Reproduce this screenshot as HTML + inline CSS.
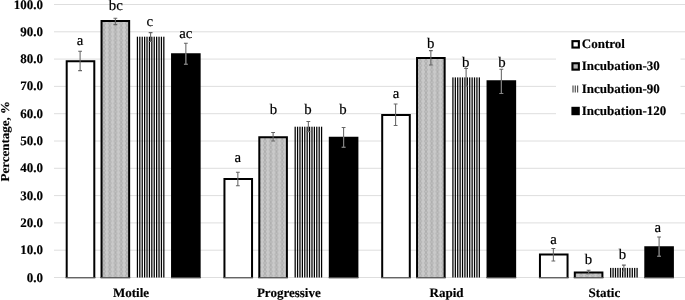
<!DOCTYPE html>
<html><head><meta charset="utf-8"><title>chart</title>
<style>
html,body{margin:0;padding:0;background:#fff;}
body{width:685px;height:300px;overflow:hidden;}
svg{display:block;will-change:transform;}
text{font-family:"Liberation Serif",serif;fill:#000;text-rendering:geometricPrecision;}
.b{font-weight:bold;font-size:13px;stroke:#000;stroke-width:0.15px;}
.l{font-size:14.8px;stroke:#000;stroke-width:0.2px;}
</style></head><body>
<svg width="685" height="300" viewBox="0 0 685 300">
<defs>
<pattern id="dm" patternUnits="userSpaceOnUse" x="101.1" y="0.5" width="5.75" height="4.2">
<rect width="5.75" height="4.2" fill="#c9c9c9"/>
<path d="M2.9 0 L4.4 2.1 L2.9 4.2 L1.4 2.1 Z" stroke="#a9a9a9" stroke-width="0.8" fill="#c1c1c1"/>
</pattern>
</defs>
<rect width="685" height="300" fill="#fff"/>

<line x1="54.0" x2="685" y1="277.50" y2="277.50" stroke="#dadada" stroke-width="0.9"/>
<line x1="54.0" x2="685" y1="250.20" y2="250.20" stroke="#dadada" stroke-width="0.9"/>
<line x1="54.0" x2="685" y1="222.90" y2="222.90" stroke="#dadada" stroke-width="0.9"/>
<line x1="54.0" x2="685" y1="195.60" y2="195.60" stroke="#dadada" stroke-width="0.9"/>
<line x1="54.0" x2="685" y1="168.30" y2="168.30" stroke="#dadada" stroke-width="0.9"/>
<line x1="54.0" x2="685" y1="141.00" y2="141.00" stroke="#dadada" stroke-width="0.9"/>
<line x1="54.0" x2="685" y1="113.70" y2="113.70" stroke="#dadada" stroke-width="0.9"/>
<line x1="54.0" x2="685" y1="86.40" y2="86.40" stroke="#dadada" stroke-width="0.9"/>
<line x1="54.0" x2="685" y1="59.10" y2="59.10" stroke="#dadada" stroke-width="0.9"/>
<line x1="54.0" x2="685" y1="31.80" y2="31.80" stroke="#dadada" stroke-width="0.9"/>
<line x1="54.0" x2="685" y1="4.50" y2="4.50" stroke="#dadada" stroke-width="0.9"/>
<text class="b" transform="translate(42.9,281.50) scale(1,1.0)" text-anchor="end">0.0</text>
<text class="b" transform="translate(42.9,254.20) scale(1,1.0)" text-anchor="end">10.0</text>
<text class="b" transform="translate(42.9,226.90) scale(1,1.0)" text-anchor="end">20.0</text>
<text class="b" transform="translate(42.9,199.60) scale(1,1.0)" text-anchor="end">30.0</text>
<text class="b" transform="translate(42.9,172.30) scale(1,1.0)" text-anchor="end">40.0</text>
<text class="b" transform="translate(42.9,145.00) scale(1,1.0)" text-anchor="end">50.0</text>
<text class="b" transform="translate(42.9,117.70) scale(1,1.0)" text-anchor="end">60.0</text>
<text class="b" transform="translate(42.9,90.40) scale(1,1.0)" text-anchor="end">70.0</text>
<text class="b" transform="translate(42.9,63.10) scale(1,1.0)" text-anchor="end">80.0</text>
<text class="b" transform="translate(42.9,35.80) scale(1,1.0)" text-anchor="end">90.0</text>
<text class="b" transform="translate(42.9,8.50) scale(1,1.0)" text-anchor="end">100.0</text>
<text class="b" transform="translate(8.5,141.2) rotate(-90) scale(1,0.93)" text-anchor="middle">Percentage, %</text>
<rect x="66.70" y="61.30" width="27.6" height="216.70" fill="#fff"/>
<path d="M66.70 278.00 V61.30 H94.30 V278.00" fill="none" stroke="#000" stroke-width="2"/>
<rect x="65.70" y="277.10" width="29.6" height="1.3" fill="#555"/>
<rect x="101.55" y="21.10" width="27.6" height="256.90" fill="url(#dm)"/>
<path d="M101.55 278.00 V21.10 H129.15 V278.00" fill="none" stroke="#000" stroke-width="2"/>
<rect x="100.55" y="277.10" width="29.6" height="1.3" fill="#555"/>
<g>
<rect x="136.80" y="36.70" width="1.25" height="240.80" fill="#000"/>
<rect x="139.20" y="36.70" width="1.25" height="240.80" fill="#000"/>
<rect x="141.60" y="36.70" width="1.25" height="240.80" fill="#000"/>
<rect x="144.00" y="36.70" width="1.25" height="240.80" fill="#000"/>
<rect x="146.40" y="36.70" width="1.25" height="240.80" fill="#000"/>
<rect x="148.80" y="36.70" width="1.25" height="240.80" fill="#000"/>
<rect x="151.20" y="36.70" width="1.25" height="240.80" fill="#000"/>
<rect x="153.60" y="36.70" width="1.25" height="240.80" fill="#000"/>
<rect x="156.00" y="36.70" width="1.25" height="240.80" fill="#000"/>
<rect x="158.40" y="36.70" width="1.25" height="240.80" fill="#000"/>
<rect x="160.80" y="36.70" width="1.25" height="240.80" fill="#000"/>
<rect x="163.20" y="36.70" width="1.25" height="240.80" fill="#000"/>
</g>
<rect x="172.05" y="54.20" width="27.6" height="223.80" fill="#000"/>
<path d="M172.05 278.00 V54.20 H199.65 V278.00" fill="none" stroke="#000" stroke-width="2"/>
<rect x="171.05" y="277.10" width="29.6" height="1.3" fill="#555"/>
<rect x="224.45" y="179.00" width="27.6" height="99.00" fill="#fff"/>
<path d="M224.45 278.00 V179.00 H252.05 V278.00" fill="none" stroke="#000" stroke-width="2"/>
<rect x="223.45" y="277.10" width="29.6" height="1.3" fill="#555"/>
<rect x="259.30" y="137.30" width="27.6" height="140.70" fill="url(#dm)"/>
<path d="M259.30 278.00 V137.30 H286.90 V278.00" fill="none" stroke="#000" stroke-width="2"/>
<rect x="258.30" y="277.10" width="29.6" height="1.3" fill="#555"/>
<g>
<rect x="294.55" y="126.70" width="1.25" height="150.80" fill="#000"/>
<rect x="296.95" y="126.70" width="1.25" height="150.80" fill="#000"/>
<rect x="299.35" y="126.70" width="1.25" height="150.80" fill="#000"/>
<rect x="301.75" y="126.70" width="1.25" height="150.80" fill="#000"/>
<rect x="304.15" y="126.70" width="1.25" height="150.80" fill="#000"/>
<rect x="306.55" y="126.70" width="1.25" height="150.80" fill="#000"/>
<rect x="308.95" y="126.70" width="1.25" height="150.80" fill="#000"/>
<rect x="311.35" y="126.70" width="1.25" height="150.80" fill="#000"/>
<rect x="313.75" y="126.70" width="1.25" height="150.80" fill="#000"/>
<rect x="316.15" y="126.70" width="1.25" height="150.80" fill="#000"/>
<rect x="318.55" y="126.70" width="1.25" height="150.80" fill="#000"/>
<rect x="320.95" y="126.70" width="1.25" height="150.80" fill="#000"/>
</g>
<rect x="329.80" y="137.70" width="27.6" height="140.30" fill="#000"/>
<path d="M329.80 278.00 V137.70 H357.40 V278.00" fill="none" stroke="#000" stroke-width="2"/>
<rect x="328.80" y="277.10" width="29.6" height="1.3" fill="#555"/>
<rect x="382.20" y="115.10" width="27.6" height="162.90" fill="#fff"/>
<path d="M382.20 278.00 V115.10 H409.80 V278.00" fill="none" stroke="#000" stroke-width="2"/>
<rect x="381.20" y="277.10" width="29.6" height="1.3" fill="#555"/>
<rect x="417.05" y="57.90" width="27.6" height="220.10" fill="url(#dm)"/>
<path d="M417.05 278.00 V57.90 H444.65 V278.00" fill="none" stroke="#000" stroke-width="2"/>
<rect x="416.05" y="277.10" width="29.6" height="1.3" fill="#555"/>
<g>
<rect x="452.30" y="77.40" width="1.25" height="200.10" fill="#000"/>
<rect x="454.70" y="77.40" width="1.25" height="200.10" fill="#000"/>
<rect x="457.10" y="77.40" width="1.25" height="200.10" fill="#000"/>
<rect x="459.50" y="77.40" width="1.25" height="200.10" fill="#000"/>
<rect x="461.90" y="77.40" width="1.25" height="200.10" fill="#000"/>
<rect x="464.30" y="77.40" width="1.25" height="200.10" fill="#000"/>
<rect x="466.70" y="77.40" width="1.25" height="200.10" fill="#000"/>
<rect x="469.10" y="77.40" width="1.25" height="200.10" fill="#000"/>
<rect x="471.50" y="77.40" width="1.25" height="200.10" fill="#000"/>
<rect x="473.90" y="77.40" width="1.25" height="200.10" fill="#000"/>
<rect x="476.30" y="77.40" width="1.25" height="200.10" fill="#000"/>
<rect x="478.70" y="77.40" width="1.25" height="200.10" fill="#000"/>
</g>
<rect x="487.55" y="81.20" width="27.6" height="196.80" fill="#000"/>
<path d="M487.55 278.00 V81.20 H515.15 V278.00" fill="none" stroke="#000" stroke-width="2"/>
<rect x="486.55" y="277.10" width="29.6" height="1.3" fill="#555"/>
<rect x="539.95" y="254.40" width="27.6" height="23.60" fill="#fff"/>
<path d="M539.95 278.00 V254.40 H567.55 V278.00" fill="none" stroke="#000" stroke-width="2"/>
<rect x="538.95" y="277.10" width="29.6" height="1.3" fill="#555"/>
<rect x="574.80" y="272.40" width="27.6" height="5.60" fill="url(#dm)"/>
<path d="M574.80 278.00 V272.40 H602.40 V278.00" fill="none" stroke="#000" stroke-width="2"/>
<rect x="573.80" y="277.10" width="29.6" height="1.3" fill="#555"/>
<g>
<rect x="610.05" y="267.90" width="1.25" height="9.60" fill="#000"/>
<rect x="612.45" y="267.90" width="1.25" height="9.60" fill="#000"/>
<rect x="614.85" y="267.90" width="1.25" height="9.60" fill="#000"/>
<rect x="617.25" y="267.90" width="1.25" height="9.60" fill="#000"/>
<rect x="619.65" y="267.90" width="1.25" height="9.60" fill="#000"/>
<rect x="622.05" y="267.90" width="1.25" height="9.60" fill="#000"/>
<rect x="624.45" y="267.90" width="1.25" height="9.60" fill="#000"/>
<rect x="626.85" y="267.90" width="1.25" height="9.60" fill="#000"/>
<rect x="629.25" y="267.90" width="1.25" height="9.60" fill="#000"/>
<rect x="631.65" y="267.90" width="1.25" height="9.60" fill="#000"/>
<rect x="634.05" y="267.90" width="1.25" height="9.60" fill="#000"/>
<rect x="636.45" y="267.90" width="1.25" height="9.60" fill="#000"/>
</g>
<rect x="645.30" y="247.20" width="27.6" height="30.80" fill="#000"/>
<path d="M645.30 278.00 V247.20 H672.90 V278.00" fill="none" stroke="#000" stroke-width="2"/>
<rect x="644.30" y="277.10" width="29.6" height="1.3" fill="#555"/>
<path d="M80.10 51.30 V70.60 M78.20 51.30 H82.00 M78.20 70.60 H82.00" stroke="#666" stroke-width="1.05" fill="none"/>
<path d="M115.35 18.20 V24.60 M113.45 18.20 H117.25 M113.45 24.60 H117.25" stroke="#666" stroke-width="1.05" fill="none"/>
<path d="M150.60 32.60 V41.40 M148.70 32.60 H152.50 M148.70 41.40 H152.50" stroke="#666" stroke-width="1.05" fill="none"/>
<path d="M185.85 43.30 V64.30 M183.95 43.30 H187.75 M183.95 64.30 H187.75" stroke="#666" stroke-width="1.05" fill="none"/>
<path d="M185.85 53.50 V64.30 M183.95 64.30 H187.75" stroke="#858585" stroke-width="1.05" fill="none"/>
<path d="M237.85 172.20 V185.80 M235.95 172.20 H239.75 M235.95 185.80 H239.75" stroke="#666" stroke-width="1.05" fill="none"/>
<path d="M273.10 132.50 V141.00 M271.20 132.50 H275.00 M271.20 141.00 H275.00" stroke="#666" stroke-width="1.05" fill="none"/>
<path d="M308.35 121.50 V131.60 M306.45 121.50 H310.25 M306.45 131.60 H310.25" stroke="#666" stroke-width="1.05" fill="none"/>
<path d="M343.60 127.40 V147.20 M341.70 127.40 H345.50 M341.70 147.20 H345.50" stroke="#666" stroke-width="1.05" fill="none"/>
<path d="M343.60 137.00 V147.20 M341.70 147.20 H345.50" stroke="#858585" stroke-width="1.05" fill="none"/>
<path d="M395.60 104.00 V125.50 M393.70 104.00 H397.50 M393.70 125.50 H397.50" stroke="#666" stroke-width="1.05" fill="none"/>
<path d="M430.85 50.60 V65.00 M428.95 50.60 H432.75 M428.95 65.00 H432.75" stroke="#666" stroke-width="1.05" fill="none"/>
<path d="M466.10 68.50 V86.00 M464.20 68.50 H468.00 M464.20 86.00 H468.00" stroke="#666" stroke-width="1.05" fill="none"/>
<path d="M501.35 69.30 V93.50 M499.45 69.30 H503.25 M499.45 93.50 H503.25" stroke="#666" stroke-width="1.05" fill="none"/>
<path d="M501.35 80.50 V93.50 M499.45 93.50 H503.25" stroke="#858585" stroke-width="1.05" fill="none"/>
<path d="M553.35 248.50 V260.90 M551.45 248.50 H555.25 M551.45 260.90 H555.25" stroke="#666" stroke-width="1.05" fill="none"/>
<path d="M588.60 270.20 V273.70 M586.70 270.20 H590.50 M586.70 273.70 H590.50" stroke="#666" stroke-width="1.05" fill="none"/>
<path d="M623.85 265.10 V271.00 M621.95 265.10 H625.75 M621.95 271.00 H625.75" stroke="#666" stroke-width="1.05" fill="none"/>
<path d="M659.10 237.00 V256.20 M657.20 237.00 H661.00 M657.20 256.20 H661.00" stroke="#666" stroke-width="1.05" fill="none"/>
<path d="M659.10 246.50 V256.20 M657.20 256.20 H661.00" stroke="#858585" stroke-width="1.05" fill="none"/>
<text class="l" transform="translate(80.0,44.9) scale(1,1.0)" text-anchor="middle">a</text>
<text class="l" transform="translate(115.8,9.9) scale(1,1.0)" text-anchor="middle">bc</text>
<text class="l" transform="translate(149.8,25.7) scale(1,1.0)" text-anchor="middle">c</text>
<text class="l" transform="translate(185.7,37.6) scale(1,1.0)" text-anchor="middle">ac</text>
<text class="l" transform="translate(237.8,161.7) scale(1,1.0)" text-anchor="middle">a</text>
<text class="l" transform="translate(273.5,114.0) scale(1,1.0)" text-anchor="middle">b</text>
<text class="l" transform="translate(307.9,114.0) scale(1,1.0)" text-anchor="middle">b</text>
<text class="l" transform="translate(342.9,114.0) scale(1,1.0)" text-anchor="middle">b</text>
<text class="l" transform="translate(396.0,97.9) scale(1,1.0)" text-anchor="middle">a</text>
<text class="l" transform="translate(430.7,47.5) scale(1,1.0)" text-anchor="middle">b</text>
<text class="l" transform="translate(465.8,66.9) scale(1,1.0)" text-anchor="middle">b</text>
<text class="l" transform="translate(502.0,66.9) scale(1,1.0)" text-anchor="middle">b</text>
<text class="l" transform="translate(553.5,243.8) scale(1,1.0)" text-anchor="middle">a</text>
<text class="l" transform="translate(588.5,264.4) scale(1,1.0)" text-anchor="middle">b</text>
<text class="l" transform="translate(622.5,259.3) scale(1,1.0)" text-anchor="middle">b</text>
<text class="l" transform="translate(657.7,231.7) scale(1,1.0)" text-anchor="middle">a</text>
<text class="b" transform="translate(131.07,297.3) scale(1,1.0)" text-anchor="middle">Motile</text>
<text class="b" transform="translate(288.82,297.3) scale(1,1.0)" text-anchor="middle">Progressive</text>
<text class="b" transform="translate(446.57,297.3) scale(1,1.0)" text-anchor="middle">Rapid</text>
<text class="b" transform="translate(604.33,297.3) scale(1,1.0)" text-anchor="middle">Static</text>
<rect x="556" y="34" width="124.5" height="94" fill="#fff"/>
<text class="b" transform="translate(581.8,48.3) scale(1,1.0)">Control</text>
<rect x="572.45" y="41.15" width="6.4" height="6.4" fill="#fff" stroke="#000" stroke-width="2.1"/>
<text class="b" transform="translate(581.8,70.4) scale(1,1.0)">Incubation-30</text>
<rect x="572.45" y="63.25" width="6.4" height="6.4" fill="#b4b4b4" stroke="#000" stroke-width="2.1"/>
<text class="b" transform="translate(581.8,92.7) scale(1,1.0)">Incubation-90</text>
<rect x="572.40" y="85.50" width="1.2" height="7" fill="#555"/>
<rect x="574.70" y="85.50" width="1.2" height="7" fill="#555"/>
<rect x="577.00" y="85.50" width="1.2" height="7" fill="#555"/>
<text class="b" transform="translate(581.8,115.0) scale(1,1.0)">Incubation-120</text>
<rect x="571.4" y="106.80" width="8.4" height="8.4" fill="#000"/>
</svg></body></html>
